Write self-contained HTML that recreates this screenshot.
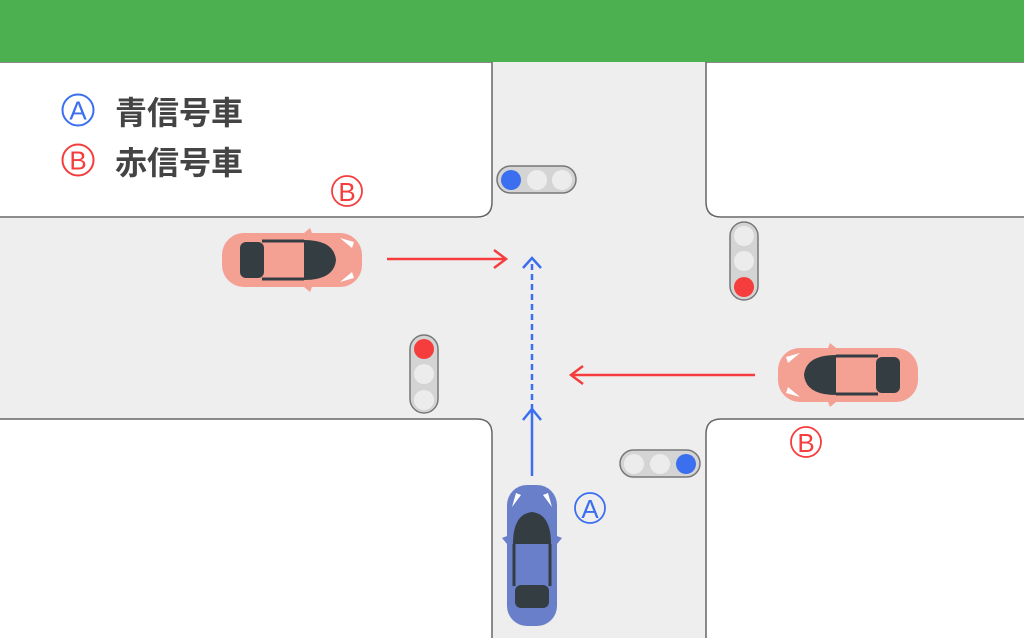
<!DOCTYPE html>
<html><head><meta charset="utf-8"><style>
html,body{margin:0;padding:0;background:#fff;}
svg{display:block}
</style></head><body>
<svg width="1024" height="638" viewBox="0 0 1024 638" xmlns="http://www.w3.org/2000/svg">
<rect x="0" y="0" width="1024" height="638" fill="#fff"/>
<rect x="486" y="62" width="226" height="576" fill="#eeeeee"/>
<rect x="0" y="218" width="1024" height="201" fill="#eeeeee"/>
<g fill="#fff" stroke="#666" stroke-width="1.5">
  <path d="M-5 62 H492 V202 Q492 217 477 217 H-5 Z"/>
  <path d="M1030 62 H706 V202 Q706 217 721 217 H1030 Z"/>
  <path d="M-5 643 H492 V434 Q492 419 477 419 H-5 Z"/>
  <path d="M1030 643 H706 V434 Q706 419 721 419 H1030 Z"/>
</g>
<rect x="0" y="0" width="1024" height="62" fill="#4caf50"/>

<g font-family="Liberation Sans, Noto Sans CJK JP, sans-serif">
  <circle cx="78" cy="110" r="15.5" fill="none" stroke="#3b6ff0" stroke-width="2"/>
  <text x="78" y="119.5" text-anchor="middle" font-size="26" fill="#3b6ff0">A</text>
  <circle cx="78" cy="160" r="15.5" fill="none" stroke="#f53d3d" stroke-width="2"/>
  <text x="78" y="169.5" text-anchor="middle" font-size="26" fill="#f53d3d">B</text>
  <text x="115" y="124" font-size="32" font-weight="bold" fill="#444" font-family="Noto Sans CJK JP, sans-serif">青信号車</text>
  <text x="115" y="174" font-size="32" font-weight="bold" fill="#444" font-family="Noto Sans CJK JP, sans-serif">赤信号車</text>

  <circle cx="347" cy="191" r="15" fill="none" stroke="#f53d3d" stroke-width="1.8"/>
  <text x="347" y="201" text-anchor="middle" font-size="26" fill="#f53d3d">B</text>
  <circle cx="806" cy="442" r="15" fill="none" stroke="#f53d3d" stroke-width="1.8"/>
  <text x="806" y="452" text-anchor="middle" font-size="26" fill="#f53d3d">B</text>
  <circle cx="590" cy="508" r="15" fill="none" stroke="#3b6ff0" stroke-width="1.8"/>
  <text x="590" y="518" text-anchor="middle" font-size="26" fill="#3b6ff0">A</text>
</g>

<g stroke="#777" stroke-width="1.5">
  <rect x="497" y="166" width="79" height="27" rx="13.5" fill="#d4d4d4"/>
  <rect x="730" y="222" width="28" height="78" rx="14" fill="#d4d4d4"/>
  <rect x="410" y="335" width="28" height="78" rx="14" fill="#d4d4d4"/>
  <rect x="620" y="450" width="80" height="27" rx="13.5" fill="#d4d4d4"/>
</g>
<g>
  <circle cx="511" cy="180" r="10" fill="#3b6ff0"/><circle cx="537" cy="180" r="10" fill="#ececec"/><circle cx="562" cy="180" r="10" fill="#ececec"/>
  <circle cx="744" cy="236" r="10" fill="#ececec"/><circle cx="744" cy="261" r="10" fill="#ececec"/><circle cx="744" cy="287" r="10" fill="#f53d3d"/>
  <circle cx="424" cy="349" r="10" fill="#f53d3d"/><circle cx="424" cy="374" r="10" fill="#ececec"/><circle cx="424" cy="400" r="10" fill="#ececec"/>
  <circle cx="634" cy="464" r="10" fill="#ececec"/><circle cx="660" cy="464" r="10" fill="#ececec"/><circle cx="686" cy="464" r="10" fill="#3b6ff0"/>
</g>

<g fill="none" stroke-width="2.5">
  <path d="M387 259 H505 M494 250 L506 259 L494 268" stroke="#f53d3d"/>
  <path d="M755 375 H572 M583 366 L571 375 L583 384" stroke="#f53d3d"/>
  <path d="M532 476 V410 M523 420 L532 409 L541 420" stroke="#3b6ff0"/>
  <path d="M532 410 V260" stroke="#3b6ff0" stroke-dasharray="6,4"/>
  <path d="M523 268 L532 258 L541 268" stroke="#3b6ff0"/>
</g>

<g transform="translate(222,260)">
  <rect x="0" y="-27" width="140" height="54" rx="22" fill="#f4a093"/>
  <path d="M82 -27 L88 -32 L90 -27 Z M82 27 L88 32 L90 27 Z" fill="#f4a093"/>
  <rect x="18" y="-18" width="24" height="36" rx="6" fill="#333d42"/>
  <path d="M82 -20 Q112 -20 114 0 Q112 20 82 20 Z" fill="#333d42"/>
  <path d="M40 -19 L82 -19 M40 19 L82 19" stroke="#333d42" stroke-width="3"/>
  <path d="M118 -22 L132 -18 L130 -12 Z M118 22 L132 18 L130 12 Z" fill="#fff"/>
</g>
<g transform="translate(918,375) rotate(180)">
  <rect x="0" y="-27" width="140" height="54" rx="22" fill="#f4a093"/>
  <path d="M82 -27 L88 -32 L90 -27 Z M82 27 L88 32 L90 27 Z" fill="#f4a093"/>
  <rect x="18" y="-18" width="24" height="36" rx="6" fill="#333d42"/>
  <path d="M82 -20 Q112 -20 114 0 Q112 20 82 20 Z" fill="#333d42"/>
  <path d="M40 -19 L82 -19 M40 19 L82 19" stroke="#333d42" stroke-width="3"/>
  <path d="M118 -22 L132 -18 L130 -12 Z M118 22 L132 18 L130 12 Z" fill="#fff"/>
</g>
<g transform="translate(532,626) rotate(-90)">
  <rect x="0" y="-25" width="141" height="50" rx="20" fill="#6a7fc9"/>
  <path d="M82 -25 L88 -30 L90 -25 Z M82 25 L88 30 L90 25 Z" fill="#6a7fc9"/>
  <rect x="18" y="-17" width="23" height="34" rx="6" fill="#333d42"/>
  <path d="M82 -19 Q112 -19 114 0 Q112 19 82 19 Z" fill="#333d42"/>
  <path d="M40 -18 L82 -18 M40 18 L82 18" stroke="#333d42" stroke-width="3"/>
  <path d="M119 -20 L133 -16 L131 -11 Z M119 20 L133 16 L131 11 Z" fill="#fff"/>
</g>
</svg>
</body></html>
